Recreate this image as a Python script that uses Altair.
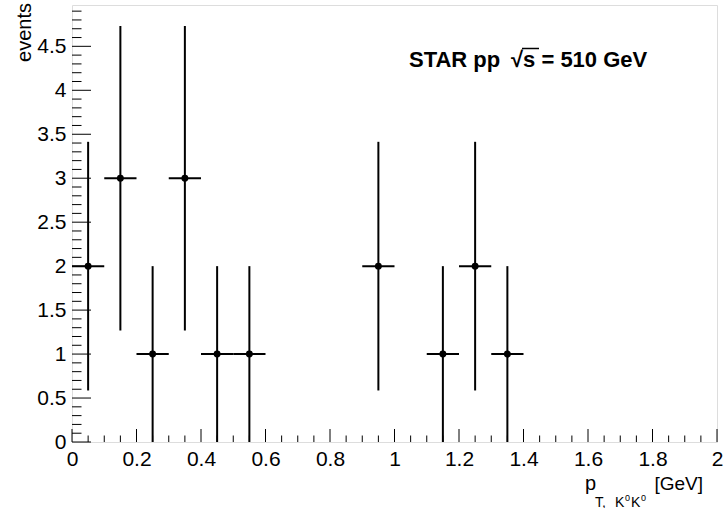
import altair as alt
import pandas as pd

# Histogram bins (GeV) and entries with their statistical errors
bin_low = [0.0, 0.1, 0.2, 0.3, 0.4, 0.5, 0.9, 1.1, 1.2, 1.3]
bin_high = [0.1, 0.2, 0.3, 0.4, 0.5, 0.6, 1.0, 1.2, 1.3, 1.4]
bin_center = [0.05, 0.15, 0.25, 0.35, 0.45, 0.55, 0.95, 1.15, 1.25, 1.35]
counts = [2, 3, 1, 3, 1, 1, 2, 1, 2, 1]
errors = [1.414, 1.732, 1.0, 1.732, 1.0, 1.0, 1.414, 1.0, 1.414, 1.0]

# Axis tick positions
x_major = [0.0, 0.2, 0.4, 0.6, 0.8, 1.0, 1.2, 1.4, 1.6, 1.8, 2.0]
x_minor = [0.05, 0.1, 0.15, 0.25, 0.3, 0.35, 0.45, 0.5, 0.55, 0.65, 0.7, 0.75,
           0.85, 0.9, 0.95, 1.05, 1.1, 1.15, 1.25, 1.3, 1.35, 1.45, 1.5, 1.55,
           1.65, 1.7, 1.75, 1.85, 1.9, 1.95]
y_major = [0.0, 0.5, 1.0, 1.5, 2.0, 2.5, 3.0, 3.5, 4.0, 4.5]
y_minor = [0.1, 0.2, 0.3, 0.4, 0.6, 0.7, 0.8, 0.9, 1.1, 1.2, 1.3, 1.4,
           1.6, 1.7, 1.8, 1.9, 2.1, 2.2, 2.3, 2.4, 2.6, 2.7, 2.8, 2.9,
           3.1, 3.2, 3.3, 3.4, 3.6, 3.7, 3.8, 3.9, 4.1, 4.2, 4.3, 4.4,
           4.6, 4.7, 4.8, 4.9]

W, H = 645, 437
FONT = "Liberation Sans"

df = pd.DataFrame({
    "lo": bin_low, "hi": bin_high, "x": bin_center,
    "n": counts, "err": errors,
})
df["ylo"] = df["n"] - df["err"]
df["yhi"] = df["n"] + df["err"]

xs = alt.Scale(domain=[0, 2], nice=False, zero=False)
ys = alt.Scale(domain=[0, 4.97], nice=False, zero=False)

x_axis = alt.Axis(values=x_major, format="~g", ticks=False, domain=False, grid=False,
                  labelFont=FONT, labelFontSize=21, labelColor="black",
                  labelPadding=6, labelOverlap=False, labelFlush=False, title=None)
y_axis = alt.Axis(values=y_major, format="~g", ticks=False, domain=False, grid=False,
                  labelFont=FONT, labelFontSize=21, labelColor="black",
                  labelPadding=6, labelOverlap=False, labelFlush=False, title=None)

base = alt.Chart(df)

vbars = base.mark_rule(color="black", strokeWidth=2).encode(
    x=alt.X("x:Q", scale=xs, axis=x_axis),
    y=alt.Y("ylo:Q", scale=ys, axis=y_axis),
    y2="yhi:Q",
)
hbars = base.mark_rule(color="black", strokeWidth=2).encode(
    x=alt.X("lo:Q", scale=xs), x2="hi:Q", y=alt.Y("n:Q", scale=ys),
)
dots = base.mark_circle(color="black", opacity=1, size=48).encode(
    x=alt.X("x:Q", scale=xs), y=alt.Y("n:Q", scale=ys),
)

def xticks(vals, length):
    return alt.Chart(pd.DataFrame({"v": vals})).mark_rule(color="black", strokeWidth=1).encode(
        x=alt.X("v:Q", scale=xs), y=alt.value(H), y2=alt.value(H - length))

def yticks(vals, length):
    return alt.Chart(pd.DataFrame({"v": vals})).mark_rule(color="black", strokeWidth=1).encode(
        y=alt.Y("v:Q", scale=ys), x=alt.value(0), x2=alt.value(length))

ticks = [xticks(x_major, 13), xticks(x_minor, 6.5), yticks(y_major, 19), yticks(y_minor, 9.5)]

def label(text, x, y, size, weight="normal", align="left", angle=0, baseline="alphabetic"):
    return alt.Chart(pd.DataFrame({"t": [text]})).mark_text(
        font=FONT, fontSize=size, fontWeight=weight, align=align, angle=angle,
        baseline=baseline, color="black",
    ).encode(text="t:N", x=alt.value(x), y=alt.value(y))

texts = [
    label("STAR pp", 337, 62, 22, weight="bold"),
    label("\u221as = 510 GeV", 439, 62, 22, weight="bold"),
    label("events", -41, -2, 20, align="right", angle=270),
    label("p", 513, 485, 20),
    label("T,", 523, 501.5, 14),
    label("K", 543, 501.5, 14),
    label("0", 553, 496, 9),
    label("K", 559, 501.5, 14),
    label("0", 569, 496, 9),
    label("[GeV]", 631, 485, 19, align="right"),
]

# bar over the "s" under the radical sign
overline = alt.Chart(pd.DataFrame({"k": [0]})).mark_rule(color="black", strokeWidth=1.5).encode(
    x=alt.value(450), x2=alt.value(467), y=alt.value(43.5))

chart = alt.layer(vbars, hbars, dots, *ticks, *texts, overline).properties(
    width=W, height=H,
    autosize=alt.AutoSizeParams(type="none"),
    padding={"left": 72, "top": 5, "right": 8, "bottom": 66},
).configure_view(stroke="black", strokeWidth=1).configure(background="white")

chart.save("out.html", embed_options={"renderer": "svg", "actions": False})
